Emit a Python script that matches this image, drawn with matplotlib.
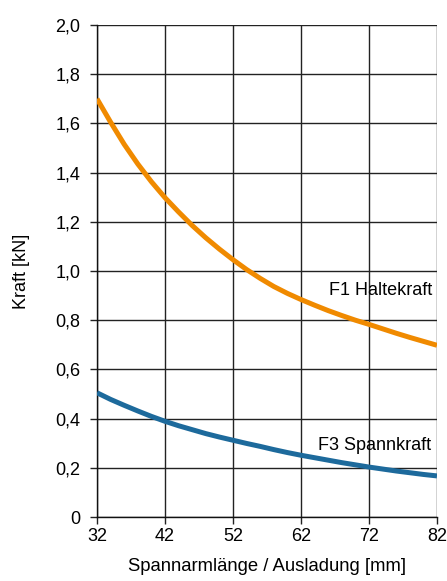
import matplotlib.pyplot as plt

plt.rcParams['font.family'] = ['Liberation Sans', 'DejaVu Sans']
plt.rcParams['font.size'] = 13

# values
x_mm = [32, 34, 36, 38, 40, 42, 44, 46, 48, 50, 52, 54, 56, 58, 60,
        62, 64, 66, 68, 70, 72, 74, 76, 78, 80, 82]
f1_halte = [1.70, 1.605, 1.515, 1.435, 1.363, 1.298, 1.24, 1.185, 1.135, 1.089, 1.046,
            1.006, 0.97, 0.937, 0.909, 0.884, 0.861, 0.839, 0.819, 0.80, 0.783,
            0.765, 0.747, 0.73, 0.714, 0.698]
f3_spann = [0.505, 0.478, 0.454, 0.431, 0.409, 0.389, 0.371, 0.355, 0.339, 0.325, 0.312,
            0.299, 0.287, 0.274, 0.262, 0.251, 0.241, 0.231, 0.221, 0.212, 0.203,
            0.195, 0.187, 0.18, 0.173, 0.167]

xticks = [32, 42, 52, 62, 72, 82]
yticks = [0, 0.2, 0.4, 0.6, 0.8, 1.0, 1.2, 1.4, 1.6, 1.8, 2.0]
ytick_labels = ['0', '0,2', '0,4', '0,6', '0,8', '1,0', '1,2', '1,4', '1,6', '1,8', '2,0']

fig = plt.figure(figsize=(4.47, 5.81), dpi=100)
ax = fig.add_axes([97 / 447, 1 - 517 / 581, 340 / 447, 492 / 581])

ax.plot(x_mm, f1_halte, color='#F08A00', linewidth=3.6, solid_capstyle='butt', zorder=3)
ax.plot(x_mm, f3_spann, color='#1D6A9C', linewidth=3.6, solid_capstyle='butt', zorder=3)

ax.set_xlim(32, 82)
ax.set_ylim(0, 2.0)
ax.set_xticks(xticks)
ax.set_yticks(yticks)
ax.set_yticklabels(ytick_labels)
ax.tick_params(axis='y', length=5, width=1, color='#222222', labelsize=13, pad=7)
ax.tick_params(axis='x', length=5, width=1, color='#222222', labelsize=13, pad=3)

ax.grid(True, color='#222222', linewidth=1)
for s in ['top', 'right']:
    ax.spines[s].set_visible(False)
for s in ['left', 'bottom']:
    ax.spines[s].set_color('#111111')
    ax.spines[s].set_linewidth(1)

ax.text(81.3, 0.92, 'F1 Haltekraft', ha='right', va='center', fontsize=13, zorder=2)
ax.text(81.2, 0.292, 'F3 Spannkraft', ha='right', va='center', fontsize=13, zorder=2)

ax.set_xlabel('Spannarmlänge / Ausladung [mm]', fontsize=13.3, labelpad=9)
ax.set_ylabel('Kraft [kN]', fontsize=13, labelpad=18)

fig.savefig('out.png', dpi=100)
